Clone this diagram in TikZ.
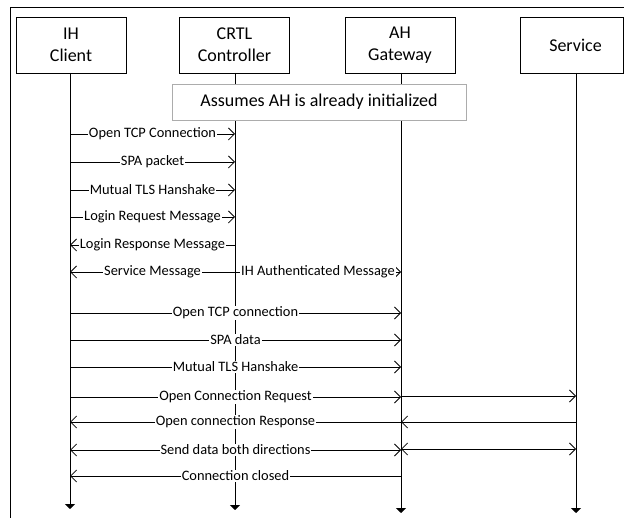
\documentclass[tikz,border=0pt]{standalone}
\usepackage{fontspec}
\setmainfont{Carlito}
\usetikzlibrary{arrows.meta}
\begin{document}
\begin{tikzpicture}[x=1pt,y=1pt,
  actor/.style={draw, line width=0.9pt, minimum width=110pt, minimum height=56pt, align=center, inner sep=0pt, font=\fontsize{18}{22}\selectfont},
  life/.style={line width=1pt, -{Triangle[length=5pt,width=10pt]}},
  msg/.style={line width=0.8pt, -{Straight Barb[length=6pt,width=12pt]}},
  bmsg/.style={line width=0.8pt, {Straight Barb[length=6pt,width=12pt]}-{Straight Barb[length=6pt,width=12pt]}},
  lbl/.style={fill=white, inner xsep=1pt, inner ysep=0.5pt, font=\fontsize{14.4}{17}\selectfont}]
\useasboundingbox (0,0) rectangle (624,-518);
\draw[line width=0.9pt] (10,-530) -- (10,-7) -- (630,-7);

% actors
\node[actor] (ih) at (71,-45) {IH\\Client};
\node[actor] (crtl) at (234.5,-45) {CRTL\\Controller};
\node[actor] (ah) at (400,-45) {AH\\Gateway};
\node[actor, minimum width=103pt] (svc) at (572,-45) {\hspace*{7pt}Service};

% lifeline coordinates
\coordinate (ihT) at (70,-73);
\coordinate (crT) at (235,-73);
\coordinate (ahT) at (401,-73);
\coordinate (svT) at (576,-73);
\coordinate (ihE) at (70,-509);
\coordinate (crE) at (235,-510);
\coordinate (ahE) at (401,-513);
\coordinate (svE) at (576,-513);

\draw[life] (ihT) -- (ihE);
\draw[life] (crT) -- (crE);
\draw[life] (ahT) -- (ahE);
\draw[life] (svT) -- (svE);

% note
\node[draw=gray!65, line width=0.9pt, fill=white, minimum width=294pt, minimum height=36pt, inner sep=0pt, font=\fontsize{18}{22}\selectfont] (note) at (319,-102) {Assumes AH is already initialized};

% messages IH <-> CRTL
\draw[msg] (ihT |- 0,-134) -- node[lbl] {Open TCP Connection} (crT |- 0,-134);
\draw[msg] (ihT |- 0,-162) -- node[lbl] {SPA packet} (crT |- 0,-162);
\draw[msg] (ihT |- 0,-190) -- node[lbl] {Mutual TLS Hanshake} (crT |- 0,-190);
\draw[msg] (ihT |- 0,-217) -- node[lbl] {Login Request Message} (crT |- 0,-217);
\draw[msg] (crT |- 0,-245) -- node[lbl] {Login Response Message} (ihT |- 0,-245);
\draw[msg] (crT |- 0,-272) -- node[lbl] {Service Message} (ihT |- 0,-272);
\draw[msg] (crT |- 0,-272) -- node[lbl] {IH Authenticated Message} (ahT |- 0,-272);

% messages IH <-> AH <-> Service
\draw[msg] (ihT |- 0,-313) -- node[lbl] {Open TCP connection} (ahT |- 0,-313);
\draw[msg] (ihT |- 0,-340) -- node[lbl] {SPA data} (ahT |- 0,-340);
\draw[msg] (ihT |- 0,-367) -- node[lbl] {Mutual TLS Hanshake} (ahT |- 0,-367);
\draw[msg] (ihT |- 0,-397) -- node[lbl] {Open Connection Request} (ahT |- 0,-397);
\draw[msg] (ahT |- 0,-396) -- (svT |- 0,-396);
\draw[msg] (svT |- 0,-422) -- (ahT |- 0,-422);
\draw[msg] (ahT |- 0,-422) -- node[lbl] {Open connection Response} (ihT |- 0,-422);
\draw[bmsg] (ihT |- 0,-450) -- node[lbl] {Send data both directions} (ahT |- 0,-450);
\draw[bmsg] (ahT |- 0,-449) -- (svT |- 0,-449);
\draw[msg] (ahT |- 0,-476) -- node[lbl] {Connection closed} (ihT |- 0,-476);
\end{tikzpicture}
\end{document}
